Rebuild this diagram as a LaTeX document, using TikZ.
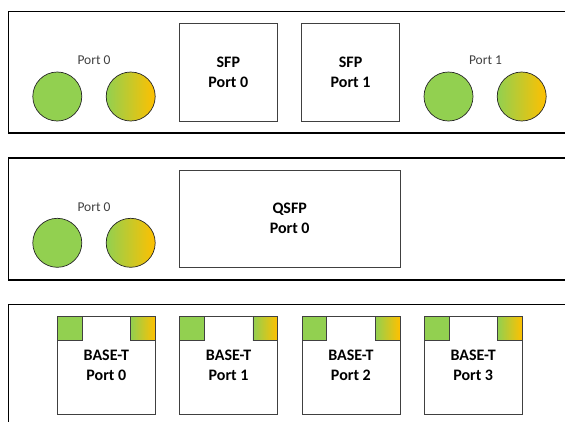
\documentclass[tikz,border=0pt]{standalone}
\usepackage{fontspec}
\setmainfont{Carlito}
\usepackage{tikz}
\usetikzlibrary{shapes,arrows}
\definecolor{ledgreen}{HTML}{92D050}
\definecolor{ledamber}{HTML}{FFC000}
\definecolor{outline}{HTML}{404040}
\tikzstyle{panel} = [rectangle, draw=black, line width=1.2pt, anchor=north west, minimum width=600pt, inner sep=0pt]
\tikzstyle{cage} = [rectangle, draw=outline, line width=0.8pt, fill=white, minimum width=98pt, minimum height=98pt, inner sep=0pt, align=center, text centered, font=\fontsize{16}{20}\selectfont\bfseries]
\tikzstyle{ledlink} = [circle, draw=black!85, line width=0.7pt, minimum size=49pt, inner sep=0pt, fill=ledgreen]
\tikzstyle{ledact} = [circle, draw=black!85, line width=0.7pt, minimum size=49pt, inner sep=0pt, left color=ledgreen, right color=ledamber]
\tikzstyle{tablink} = [rectangle, draw=outline, line width=0.8pt, minimum size=24.7pt, inner sep=0pt, fill=ledgreen, anchor=north west]
\tikzstyle{tabact} = [rectangle, draw=outline, line width=0.8pt, minimum size=24.7pt, inner sep=0pt, left color=ledgreen, right color=ledamber, anchor=north east]
\tikzstyle{portname} = [font=\fontsize{13.5}{16}\selectfont, text=outline, inner sep=0pt]

\begin{document}
\begin{tikzpicture}[x=1pt, y=-1pt, node distance=122.3pt]
\useasboundingbox (0,0) rectangle (565,421);
\clip (0,0) rectangle (565,421);

% cards
\node (sfpcard) [panel, minimum height=121.3pt] at (8,11) {};
\node (qsfpcard) [panel, minimum height=122pt] at (8,157.3) {};
\node (basetcard) [panel, minimum height=140pt] at (8,304) {};

% SFP card
\node (sfpalink) [ledlink] at (57.3,96.5) {};
\node (sfpaact) [ledact, right of=sfpalink, xshift=-48.9pt] {};
\node (sfpaname) [portname] at (94,60) {Port 0};
\node (sfp0) [cage] at (228.3,72) {SFP\\Port 0};
\node (sfp1) [cage, right of=sfp0] {SFP\\Port 1};
\node (sfpblink) [ledlink] at (448.5,96.5) {};
\node (sfpbact) [ledact, right of=sfpblink, xshift=-49.1pt] {};
\node (sfpbname) [portname] at (485.5,60) {Port 1};

% QSFP card
\node (qsfplink) [ledlink] at (57.3,242.8) {};
\node (qsfpact) [ledact, right of=qsfplink, xshift=-48.9pt] {};
\node (qsfpname) [portname] at (94,207) {Port 0};
\node (qsfp0) [cage, minimum width=220.7pt, minimum height=97.3pt] at (289.7,218.7) {QSFP\\Port 0};

% BASE-T card
\node (baset0) [cage] at (106.3,365) {BASE-T\\Port 0};
\node (baset1) [cage, right of=baset0] {BASE-T\\Port 1};
\node (baset2) [cage, right of=baset1] {BASE-T\\Port 2};
\node (baset3) [cage, right of=baset2] {BASE-T\\Port 3};

\node (tlink0) [tablink] at (baset0.north west) {};
\node (tact0) [tabact] at (baset0.north east) {};
\node (tlink1) [tablink] at (baset1.north west) {};
\node (tact1) [tabact] at (baset1.north east) {};
\node (tlink2) [tablink] at (baset2.north west) {};
\node (tact2) [tabact] at (baset2.north east) {};
\node (tlink3) [tablink] at (baset3.north west) {};
\node (tact3) [tabact] at (baset3.north east) {};

\end{tikzpicture}
\end{document}
